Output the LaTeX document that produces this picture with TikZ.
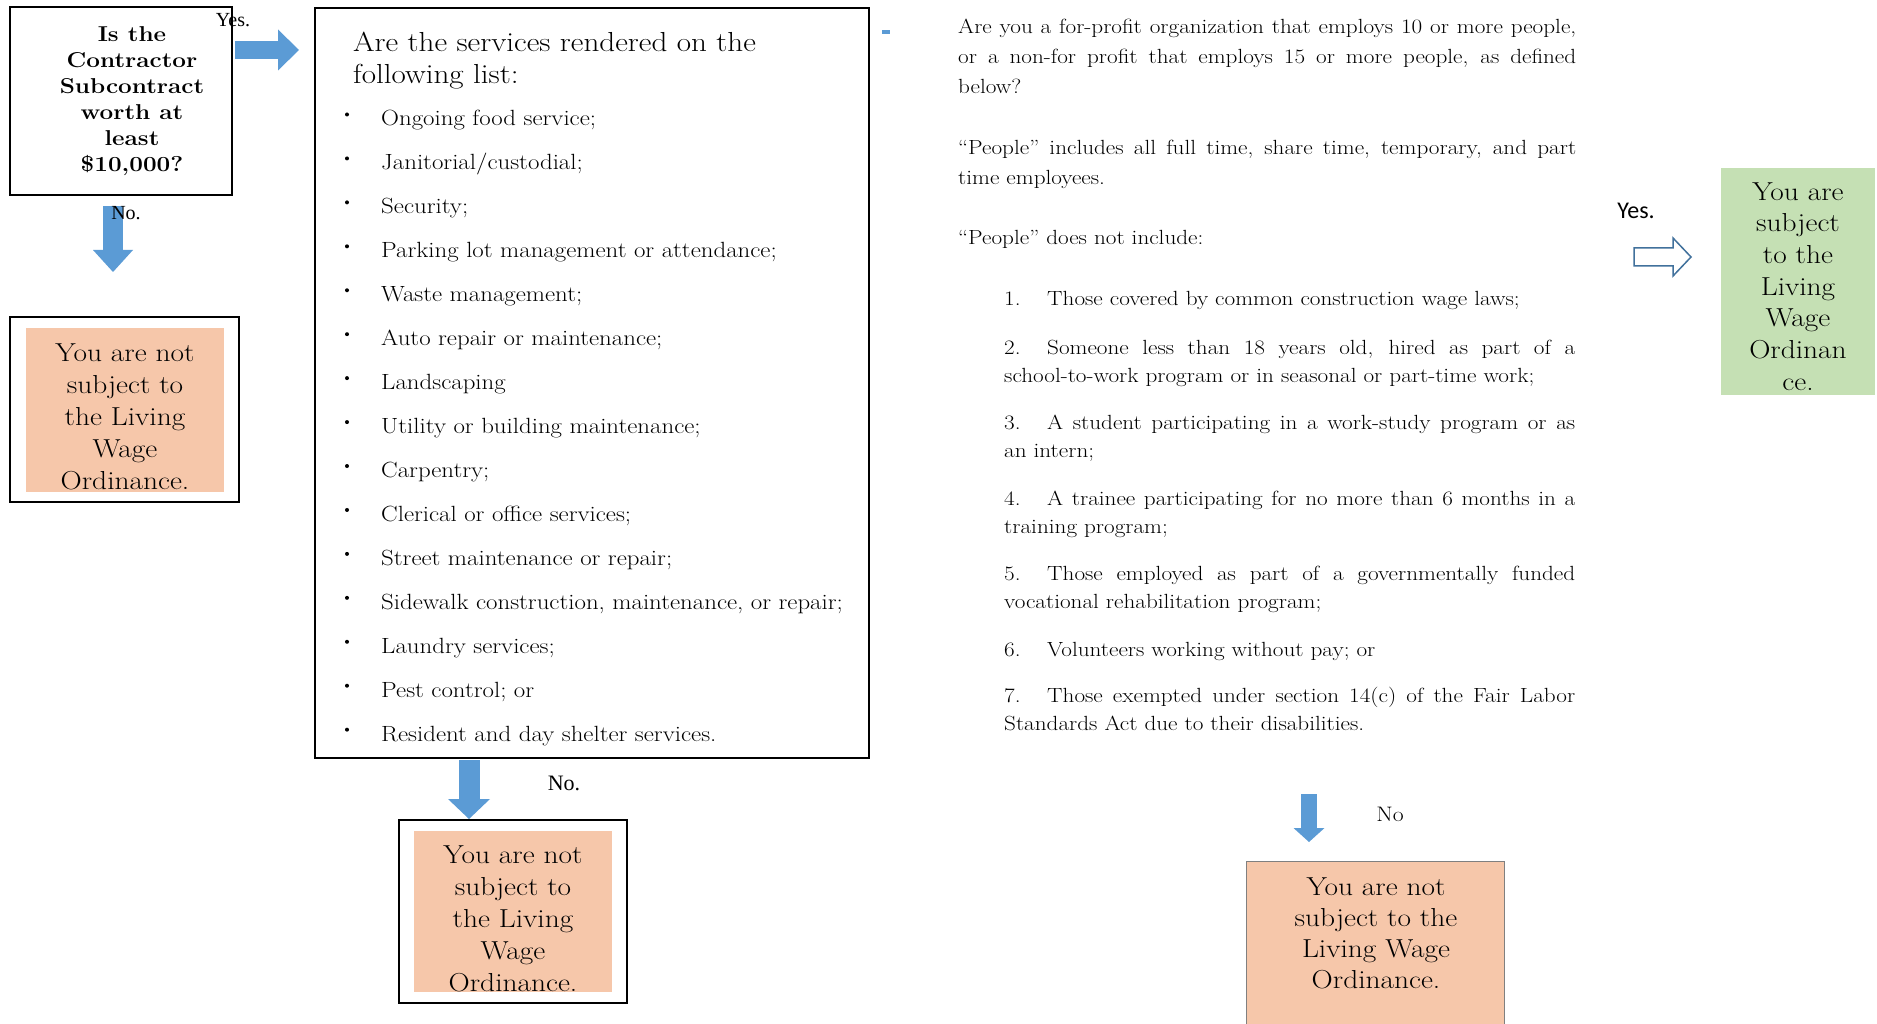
\documentclass[tikz,border=0pt]{standalone}
\usepackage{fontspec}
\setmainfont{Latin Modern Roman}[FakeStretch=1.13]
\newfontfamily\timesfont{Liberation Serif}
\newfontfamily\calibrifont{Carlito}
\usetikzlibrary{arrows.meta}
\definecolor{peach}{RGB}{246,199,170}
\definecolor{sage}{RGB}{197,224,180}
\definecolor{arrowblue}{RGB}{91,155,213}
\definecolor{outlineblue}{RGB}{65,113,156}
\begin{document}
\begin{tikzpicture}[x=1pt,y=-1pt,
boxframe/.style={draw=black,line width=2pt,inner sep=0pt},
peachbox/.style={fill=peach,inner sep=0pt},
boxtxt/.style={inner sep=0pt,align=center,font=\fontsize{26}{32}\selectfont},
listtxt/.style={anchor=base west,inner sep=0pt,font=\fontsize{22}{26}\selectfont},
para/.style 2 args={anchor=base west,inner sep=0pt,text width=#1,align=justify,font=\fontsize{20.5}{#2}\selectfont},
yesno/.style={inner sep=0pt,font=\timesfont\fontsize{20}{24}\selectfont},
fatarrow/.style n args={3}{draw=arrowblue,line width=#1,-{Triangle[length=#2,width=#3,line width=0pt]}}]
\fill[white] (0,0) rectangle (1877,1024);
\useasboundingbox (0,0) rectangle (1877,1024);
% first question
\node[boxframe,minimum width=222,minimum height=188] (q1) at (121,101) {};
\node[inner sep=0pt,align=center,font=\bfseries\fontsize{21.5}{26}\selectfont] (q1t) at (132,101) {Is the\\Contractor\\Subcontract\\worth at\\least\\\$10,000?};
\coordinate (a1s) at (235,50);
\coordinate (a1e) at (299,50);
\draw[fatarrow={18pt}{21pt}{41pt}] (a1s) -- (a1e);
\coordinate (a2s) at (113,206);
\coordinate (a2e) at (113,272);
\draw[fatarrow={20pt}{22pt}{40pt}] (a2s) -- (a2e);
\node[yesno] (yes1) at (233,20) {Yes.};
\node[yesno] (no1) at (126,213) {No.};
\node[boxframe,minimum width=229,minimum height=185] (nsub1f) at (124.5,409.5) {};
\node[peachbox,minimum width=198,minimum height=164] (nsub1) at (125,410) {};
\node[boxtxt] (nsub1t) at (125,417) {You are not\\subject to\\the Living\\Wage\\Ordinance.};
% list of services
\node[boxframe,minimum width=554,minimum height=750] (q2) at (592,383) {};
\node[anchor=north west,inner sep=0pt,align=left,font=\fontsize{27.5}{32}\selectfont] (ttl) at (353,32) {Are the services rendered on the\\following list:};
\foreach \srv [count=\i from 0] in {Ongoing food service;, Janitorial/custodial;, Security;, Parking lot management or attendance;, Waste management;, Auto repair or maintenance;, Landscaping, Utility or building maintenance;, Carpentry;, Clerical or office services;, Street maintenance or repair;, {Sidewalk construction, maintenance, or repair;}, Laundry services;, Pest control; or, Resident and day shelter services.}
{
\fill (347,114.5+43.94*\i) circle (2pt);
\node[listtxt] (srv\i) at (381,126+43.94*\i) {\srv};
}
\coordinate (a3s) at (469,760);
\coordinate (a3e) at (469,819);
\draw[fatarrow={21pt}{20pt}{42pt}] (a3s) -- (a3e);
\node[yesno,font=\timesfont\fontsize{22}{24}\selectfont] (no2) at (564,783) {No.};
\node[boxframe,minimum width=228,minimum height=183] (nsub2f) at (513,911.5) {};
\node[peachbox,minimum width=198,minimum height=161] (nsub2) at (513,911.5) {};
\node[boxtxt] (nsub2t) at (513,918.5) {You are not\\subject to\\the Living\\Wage\\Ordinance.};
\fill[arrowblue] (882,30) rectangle (890,34);
% third question
\node[para={618}{30}] (q3a) at (958,34) {Are you a for-profit organization that employs 10 or more people,\linebreak or a non-for profit that employs 15 or more people, as defined\linebreak below?};
\node[para={618}{30}] (q3b) at (958,155) {``People'' includes all full time, share time, temporary, and part\linebreak time employees.};
\node[para={618}{30}] (q3c) at (958,245) {``People'' does not include:};
\node[para={571}{28.7}] (ex1) at (1004,306) {\makebox[43pt][l]{1.}Those covered by common construction wage laws;};
\node[para={571}{28.7}] (ex2) at (1004,354) {\makebox[43pt][l]{2.}Someone less than 18 years old, hired as part of a\linebreak school-to-work program or in seasonal or part-time work;};
\node[para={571}{28.7}] (ex3) at (1004,429) {\makebox[43pt][l]{3.}A student participating in a work-study program or as\linebreak an intern;};
\node[para={571}{28.7}] (ex4) at (1004,505) {\makebox[43pt][l]{4.}A trainee participating for no more than 6 months in a\linebreak training program;};
\node[para={571}{28.7}] (ex5) at (1004,580) {\makebox[43pt][l]{5.}Those employed as part of a governmentally funded\linebreak vocational rehabilitation program;};
\node[para={571}{28.7}] (ex6) at (1004,656) {\makebox[43pt][l]{6.}Volunteers working without pay; or};
\node[para={571}{28.7}] (ex7) at (1004,702) {\makebox[43pt][l]{7.}Those exempted under section 14(c) of the Fair Labor\linebreak Standards Act due to their disabilities.};
% answers
\node[inner sep=0pt,font=\calibrifont\fontsize{24}{28}\selectfont] (yes2) at (1636,211) {Yes.};
\coordinate (ha) at (1634,257);
\draw[draw=outlineblue,line width=1.5pt,fill=white,line join=miter] (ha) ++(0,-9) -- ++(39,0) -- ++(0,-10) -- ++(18,19) -- ++(-18,19) -- ++(0,-10) -- ++(-39,0) -- cycle;
\node[fill=sage,minimum width=154,minimum height=227,inner sep=0pt] (subj) at (1798,281.5) {};
\node[boxtxt,font=\fontsize{26}{31.7}\selectfont] (subjt) at (1798,286.5) {You are\\subject\\to the\\Living\\Wage\\Ordinan\\ce.};
\coordinate (a4s) at (1309,794);
\coordinate (a4e) at (1309,842);
\draw[fatarrow={16pt}{14pt}{31pt}] (a4s) -- (a4e);
\node[inner sep=0pt,font=\fontsize{21}{24}\selectfont] (no3) at (1390,814) {No};
\node[fill=peach,draw=gray,line width=1pt,anchor=north,minimum width=258,minimum height=180,inner sep=0pt] (nsub3) at (1375,861) {};
\node[boxtxt,font=\fontsize{26}{31}\selectfont] (nsub3t) at (1376,933.5) {You are not\\subject to the\\Living Wage\\Ordinance.};
\end{tikzpicture}
\end{document}
